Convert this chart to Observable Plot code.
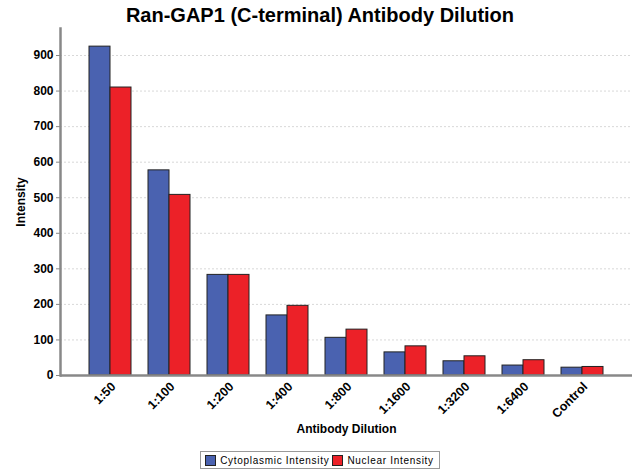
<!DOCTYPE html>
<html>
<head>
<meta charset="utf-8">
<script src="https://cdn.jsdelivr.net/npm/d3@7"></script>
<script src="https://cdn.jsdelivr.net/npm/@observablehq/plot@0.6"></script>
<style>
  body { margin: 0; background: #fff; font-family: "Liberation Sans", Arial, sans-serif; }
  #wrap { width: 640px; }
  #title { height: 24px; padding-top: 3px; line-height: 24px; text-align: center; font-size: 20px; font-weight: bold; color: #000; }
  #legend { display: flex; justify-content: center; margin-top: 3px; }
  #legend .box { display: flex; align-items: center; border: 1px solid #999; height: 16px; padding: 0 3px; font-size: 10px; letter-spacing: 0.7px; color: #000; }
  #legend .sw { display: inline-block; width: 9px; height: 9px; border: 1px solid #222; margin: 0 4px 0 1px; }
  #legend .item { display: flex; align-items: center; margin-right: 2px; }
</style>
</head>
<body>
<div id="wrap">
  <div id="title">Ran-GAP1 (C-terminal) Antibody Dilution</div>
  <div id="chart"></div>
  <div id="legend"></div>
</div>
<script>
const dilutions = ["1:50", "1:100", "1:200", "1:400", "1:800", "1:1600", "1:3200", "1:6400", "Control"];
const cytoplasmic = [925, 577, 283, 169, 106, 65, 40, 28, 22];
const nuclear = [810, 508, 283, 196, 129, 82, 54, 43, 24];
const seriesNames = ["Cytoplasmic Intensity", "Nuclear Intensity"];
const seriesColors = ["#4a62b0", "#ec2128"];
const yTicks = [0, 100, 200, 300, 400, 500, 600, 700, 800, 900];

const cytoData = dilutions.map((d, i) => ({dilution: d, value: cytoplasmic[i]}));
const nucData = dilutions.map((d, i) => ({dilution: d, value: nuclear[i]}));

const chart = Plot.plot({
  width: 640,
  height: 421,
  marginTop: 1,
  marginLeft: 60,
  marginRight: 8,
  marginBottom: 73,
  style: {fontFamily: "'Liberation Sans', Arial, sans-serif", background: "#fff", color: "#000"},
  x: {domain: dilutions, paddingInner: 0.29, paddingOuter: 0.48},
  y: {domain: [0, 976]},
  marks: [
    Plot.ruleY(yTicks.filter(t => t > 0), {stroke: "#d8d8d8", strokeDasharray: "2,2", strokeWidth: 1}),
    Plot.barY(cytoData, {x: "dilution", y: "value", fill: seriesColors[0], stroke: "#222", strokeWidth: 1, insetRight: 21}),
    Plot.barY(nucData, {x: "dilution", y: "value", fill: seriesColors[1], stroke: "#222", strokeWidth: 1, insetLeft: 21}),
    Plot.axisY({ticks: yTicks, tickSize: 4, tickPadding: 3, stroke: "#888", fontSize: 12, fontWeight: "bold", label: "Intensity", labelArrow: "none", labelAnchor: "center", labelOffset: 44}),
    Plot.axisX({tickSize: 0, tickPadding: 9, dx: 3, tickRotate: -45, fontSize: 12.5, fontWeight: "bold", label: "Antibody Dilution", labelAnchor: "center", labelOffset: 57}),
    Plot.ruleY([0], {stroke: "#888", strokeWidth: 2.5}),
    Plot.frame({anchor: "left", stroke: "#888", strokeWidth: 2.5})
  ]
});
document.getElementById("chart").appendChild(chart);

d3.select(chart).selectAll("[aria-label='y-axis label'] text, [aria-label='x-axis label'] text")
  .style("font-size", "12px").style("font-weight", "bold");

const legend = document.getElementById("legend");
const box = document.createElement("div");
box.className = "box";
seriesNames.forEach((name, i) => {
  const item = document.createElement("span");
  item.className = "item";
  const sw = document.createElement("span");
  sw.className = "sw";
  sw.style.background = seriesColors[i];
  item.appendChild(sw);
  item.appendChild(document.createTextNode(name));
  box.appendChild(item);
});
legend.appendChild(box);
</script>
</body>
</html>
